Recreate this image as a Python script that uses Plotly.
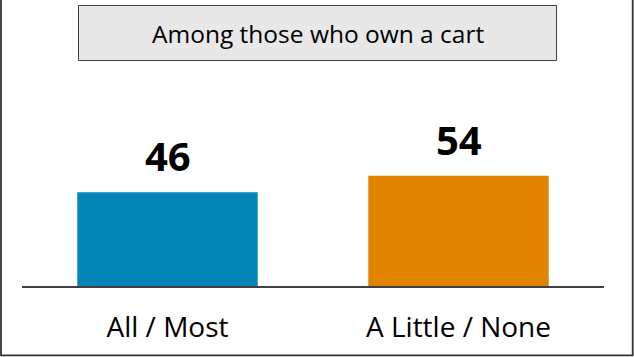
import plotly.graph_objects as go

categories = ["All / Most", "A Little / None"]
values = [46, 54]
bar_colors = ["#0385B7", "#E08300"]
title_text = "Among those who own a cart"

W, H = 634, 357
L, R, T, B = 22, 30, 82, 71
pw, ph = W - L - R, H - T - B

def px_x(p):
    return (p - L) / pw

def px_y(p):
    return (H - B - p) / ph

fig = go.Figure()
fig.add_trace(go.Bar(
    x=categories, y=values,
    marker=dict(color=bar_colors, line=dict(width=0)),
    hoverinfo="skip",
))

for c, v in zip(categories, values):
    fig.add_annotation(
        x=c, y=v, xref="x", yref="y", text=f"<b>{v}</b>",
        showarrow=False, yanchor="bottom", yshift=7,
        font=dict(family="Open Sans", size=40, color="#000000"),
    )

# title box
fig.add_shape(type="rect", xref="paper", yref="paper",
              x0=px_x(78.5), x1=px_x(556.5), y0=px_y(60.5), y1=px_y(5.5),
              fillcolor="#E8E8E8", line=dict(color="#404040", width=1), layer="below")
fig.add_annotation(x=px_x(317.5), y=px_y(34), xref="paper", yref="paper",
                   text=title_text, showarrow=False, xanchor="center", yanchor="middle",
                   font=dict(family="Open Sans", size=24.5, color="#000000"))

# outer border
fig.add_shape(type="rect", xref="paper", yref="paper",
              x0=px_x(1), x1=px_x(632.7), y0=px_y(355.3), y1=px_y(-5),
              fillcolor="rgba(0,0,0,0)", line=dict(color="#333333", width=1.8))

fig.update_layout(
    width=W, height=H,
    margin=dict(l=L, r=R, t=T, b=B, pad=0, autoexpand=False),
    paper_bgcolor="#FFFFFF", plot_bgcolor="#FFFFFF",
    bargap=0.38, showlegend=False,
    font=dict(family="Open Sans", color="#000000"),
    xaxis=dict(showline=True, linecolor="#404040", linewidth=1.5, ticks="",
               tickfont=dict(family="Open Sans", size=28, color="#000000"),
               ticklabelstandoff=16, automargin=False,
               showgrid=False, zeroline=False, fixedrange=True),
    yaxis=dict(range=[0, 100], visible=False, showgrid=False, zeroline=False,
               automargin=False, fixedrange=True),
)

fig.write_html(
    "out.html",
    config={"displayModeBar": False},
    post_script="document.body.style.margin='0';document.body.style.padding='0';document.body.style.overflow='hidden';",
)
